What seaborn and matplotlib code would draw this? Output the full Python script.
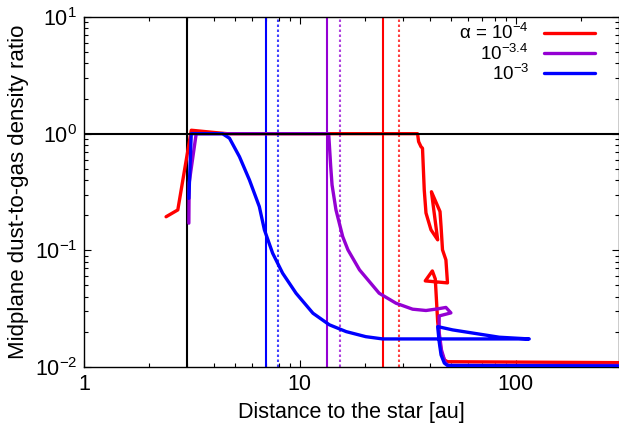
import matplotlib
matplotlib.use("Agg")
import matplotlib.pyplot as plt
import seaborn as sns
import pandas as pd
from matplotlib.ticker import LogLocator, NullFormatter

# ---- data ----
red_r = [2.40, 2.72, 3.14, 3.31, 4.09, 4.6, 35.1, 35.5, 36.4, 37.0, 37.7, 38.4, 40.5, 43.5,
         40.7, 44.6, 45.1, 45.8, 47.5, 48.3, 38.1, 41.1, 42.4, 43.5, 45.1, 46.7, 48.3, 300]
red_y = [0.194, 0.222, 1.07, 1.06, 1.02, 1.0, 1.0, 0.854, 0.774, 0.750, 0.329, 0.209, 0.150, 0.123,
         0.318, 0.215, 0.160, 0.101, 0.0828, 0.0526, 0.0547, 0.0666, 0.0569, 0.0245, 0.0136, 0.0115, 0.0111, 0.0109]

purple_r = [3.06, 3.07, 3.31, 13.6, 13.9, 14.1, 14.7, 15.8, 16.7, 18.9, 23.3, 27.9, 33.3, 38.4,
            43.5, 47.5, 50.1, 44.2, 44.2, 45.3, 47.1, 48.6, 300]
purple_y = [0.171, 0.378, 1.0, 1.0, 0.521, 0.363, 0.222, 0.131, 0.101, 0.068, 0.0429, 0.0352, 0.0313, 0.0305,
            0.0315, 0.0324, 0.0291, 0.0274, 0.0198, 0.014, 0.0110, 0.0103, 0.0103]

blue_r = [3.06, 3.14, 4.38, 4.72, 5.25, 5.84, 6.49, 6.85, 7.48, 8.32, 9.60, 11.5, 13.7, 16.4, 20.2, 24.2,
          115.5, 83.9, 51.0, 43.5, 44.2, 45.1, 46.7, 48.3, 300]
blue_y = [0.279, 1.0, 1.0, 0.914, 0.635, 0.401, 0.237, 0.150, 0.0945, 0.0637, 0.0429, 0.0289, 0.0230, 0.0201,
          0.0182, 0.0174, 0.0174, 0.0180, 0.0208, 0.0222, 0.0165, 0.0127, 0.0108, 0.0103, 0.0102]

labels = [r"$\alpha$ = 10$^{-4}$", r"10$^{-3.4}$", r"10$^{-3}$"]
colors = ["#ff0000", "#9400d3", "#0000ff"]

# vertical reference lines
snow_solid = [24.4, 13.4, 7.0]
snow_dotted = [28.9, 15.3, 7.9]
inner_edge = 3.0
unity = 1.0

xticks = [1, 10, 100]
xticklabels = ["1", "10", "100"]

# ---- style ----
sns.set_style("ticks", {"axes.edgecolor": "black", "text.color": "black",
                        "axes.labelcolor": "black", "xtick.color": "black", "ytick.color": "black"})
plt.rcParams["font.family"] = ["Liberation Sans", "DejaVu Sans"]
plt.rcParams["mathtext.fontset"] = "custom"
plt.rcParams["mathtext.rm"] = "Liberation Sans"
plt.rcParams["mathtext.it"] = "Liberation Sans:italic"
plt.rcParams["mathtext.default"] = "regular"

fig = plt.figure(figsize=(6.19, 4.41), dpi=100)
ax = fig.add_axes([84 / 619, 74 / 441, 0.9995 - 84 / 619, 350 / 441])

series = [(red_r, red_y), (purple_r, purple_y), (blue_r, blue_y)]
for (r, y), lab, c in zip(series, labels, colors):
    df = pd.DataFrame({"r": r, "ratio": y})
    sns.lineplot(data=df, x="r", y="ratio", sort=False, estimator=None, color=c,
                 lw=2.4, ax=ax, label=lab, zorder=3)

for xs, xd, c in zip(snow_solid, snow_dotted, colors):
    ax.axvline(xs, color=c, lw=1.5, zorder=2)
    ax.axvline(xd, color=c, lw=1.5, ls=(0, (1.2, 1.2)), alpha=0.75, zorder=2)
ax.axvline(inner_edge, color="black", lw=1.5, zorder=2)
ax.axhline(unity, color="black", lw=1.5, zorder=4)

ax.set_xscale("log")
ax.set_yscale("log")
ax.set_xlim(1, 300)
ax.set_ylim(1e-2, 10)
ax.set_xticks(xticks)
ax.set_xticklabels(xticklabels)
ax.xaxis.set_minor_locator(LogLocator(base=10, subs=range(2, 10), numticks=20))
ax.xaxis.set_minor_formatter(NullFormatter())
ax.yaxis.set_minor_locator(LogLocator(base=10, subs=range(2, 10), numticks=20))
ax.yaxis.set_minor_formatter(NullFormatter())
ax.tick_params(which="both", direction="in", top=True, right=True, labelsize=15.5, pad=5,
               width=0.8, colors="black")
ax.tick_params(which="major", length=5)
ax.tick_params(which="minor", length=3)
for s in ax.spines.values():
    s.set_linewidth(1.0)
    s.set_color("black")

ax.set_xlabel("Distance to the star [au]", fontsize=15.5, labelpad=5, color="black")
ax.set_ylabel("Midplane dust-to-gas density ratio", fontsize=16, labelpad=4, color="black")

leg = ax.legend(loc="upper right", bbox_to_anchor=(0.955, 0.982), frameon=False, markerfirst=False,
                fontsize=13.5, handlelength=2.7, handletextpad=0.8, labelspacing=0.0,
                borderpad=0, borderaxespad=0)
leg.set_zorder(10)
for line in leg.get_lines():
    line.set_linewidth(2.4)
for t in leg.get_texts():
    t.set_color("black")

fig.savefig("out.png", dpi=100)
